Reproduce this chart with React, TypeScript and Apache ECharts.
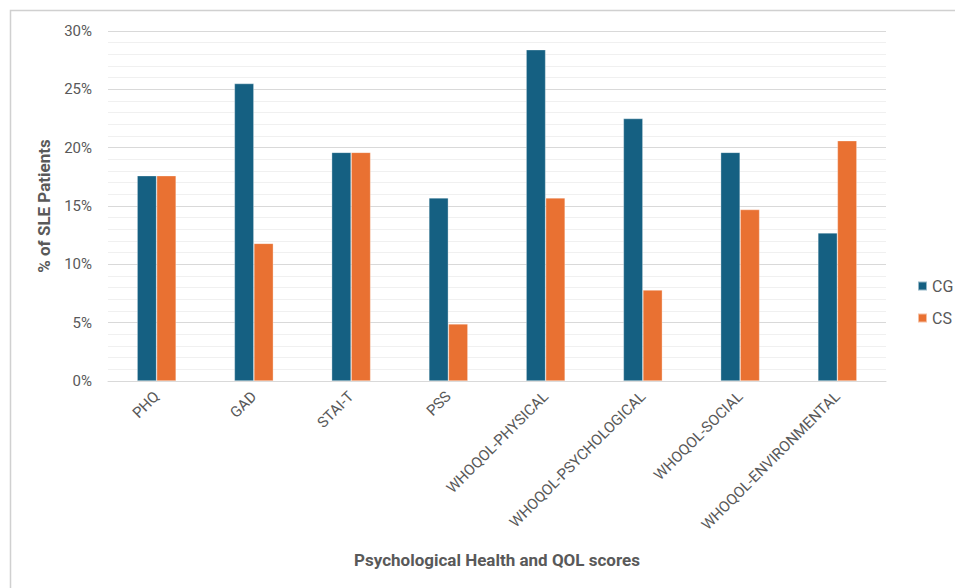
import React, { useEffect, useRef } from "react";
import * as echarts from "echarts";

const categories = [
  "PHQ",
  "GAD",
  "STAI-T",
  "PSS",
  "WHOQOL-PHYSICAL",
  "WHOQOL-PSYCHOLOGICAL",
  "WHOQOL-SOCIAL",
  "WHOQOL-ENVIRONMENTAL",
];
const cgValues = [17.6, 25.5, 19.6, 15.7, 28.4, 22.5, 19.6, 12.7];
const csValues = [17.6, 11.8, 19.6, 4.9, 15.7, 7.8, 14.7, 20.6];
const seriesNames = ["CG", "CS"];
const xTitle = "Psychological Health and QOL scores";
const yTitle = "% of SLE Patients";

const FONT = "Roboto, 'Liberation Sans', sans-serif";
const TXT = "#595959";

export default function App() {
  const ref = useRef<HTMLDivElement>(null);
  useEffect(() => {
    if (!ref.current) return;
    const chart = echarts.init(ref.current, undefined, { renderer: "svg" });
    chart.setOption({
      animation: false,
      backgroundColor: "#ffffff",
      textStyle: { fontFamily: FONT, color: TXT },
      grid: { left: 108, right: 69, top: 31, bottom: 207, containLabel: false },
      legend: {
        orient: "vertical",
        left: 912,
        top: 273,
        itemWidth: 9,
        itemHeight: 9,
        itemGap: 16,
        icon: "rect",
        textStyle: { fontSize: 16, color: TXT, fontFamily: FONT },
        data: seriesNames,
      },
      xAxis: {
        type: "category",
        data: categories,
        axisLine: { show: true, lineStyle: { color: "#d9d9d9", width: 1 } },
        axisTick: { show: false },
        axisLabel: {
          rotate: 45,
          margin: 13,
          fontSize: 15,
          color: TXT,
          fontFamily: FONT,
          interval: 0,
        },
        name: xTitle,
        nameLocation: "middle",
        nameGap: 170,
        nameTextStyle: { fontSize: 17, fontWeight: "bold", color: TXT, fontFamily: FONT },
      },
      yAxis: {
        type: "value",
        min: 0,
        max: 30,
        interval: 5,
        axisLine: { show: false },
        axisTick: { show: false },
        axisLabel: {
          formatter: "{value}%",
          fontSize: 15,
          color: TXT,
          margin: 16,
          fontFamily: FONT,
        },
        splitLine: { show: true, lineStyle: { color: "#d9d9d9", width: 1 } },
        minorTick: { show: false, splitNumber: 5 },
        minorSplitLine: { show: true, lineStyle: { color: "#f0f0f0", width: 1 } },
        name: yTitle,
        nameLocation: "middle",
        nameRotate: 90,
        nameGap: 56,
        nameTextStyle: { fontSize: 17, fontWeight: "bold", color: TXT, fontFamily: FONT },
      },
      graphic: [
        {
          type: "polyline",
          shape: { points: [[10.5, 600], [10.5, 10.5], [960, 10.5]] },
          style: { stroke: "#d0d0d0", lineWidth: 1.5, fill: "none" },
          silent: true,
        },
      ],
      series: [
        {
          name: seriesNames[0],
          type: "bar",
          data: cgValues,
          barWidth: 19.5,
          barGap: "0%",
          itemStyle: { color: "#156082", borderColor: "rgba(255,255,255,0.55)", borderWidth: 0.6 },
        },
        {
          name: seriesNames[1],
          type: "bar",
          data: csValues,
          barWidth: 19.5,
          barGap: "0%",
          itemStyle: { color: "#E97132", borderColor: "rgba(255,255,255,0.55)", borderWidth: 0.6 },
        },
      ],
    });
    return () => chart.dispose();
  }, []);
  return (
    <div
      ref={ref}
      style={{ position: "fixed", left: 0, top: 0, width: 955, height: 588 }}
    />
  );
}
